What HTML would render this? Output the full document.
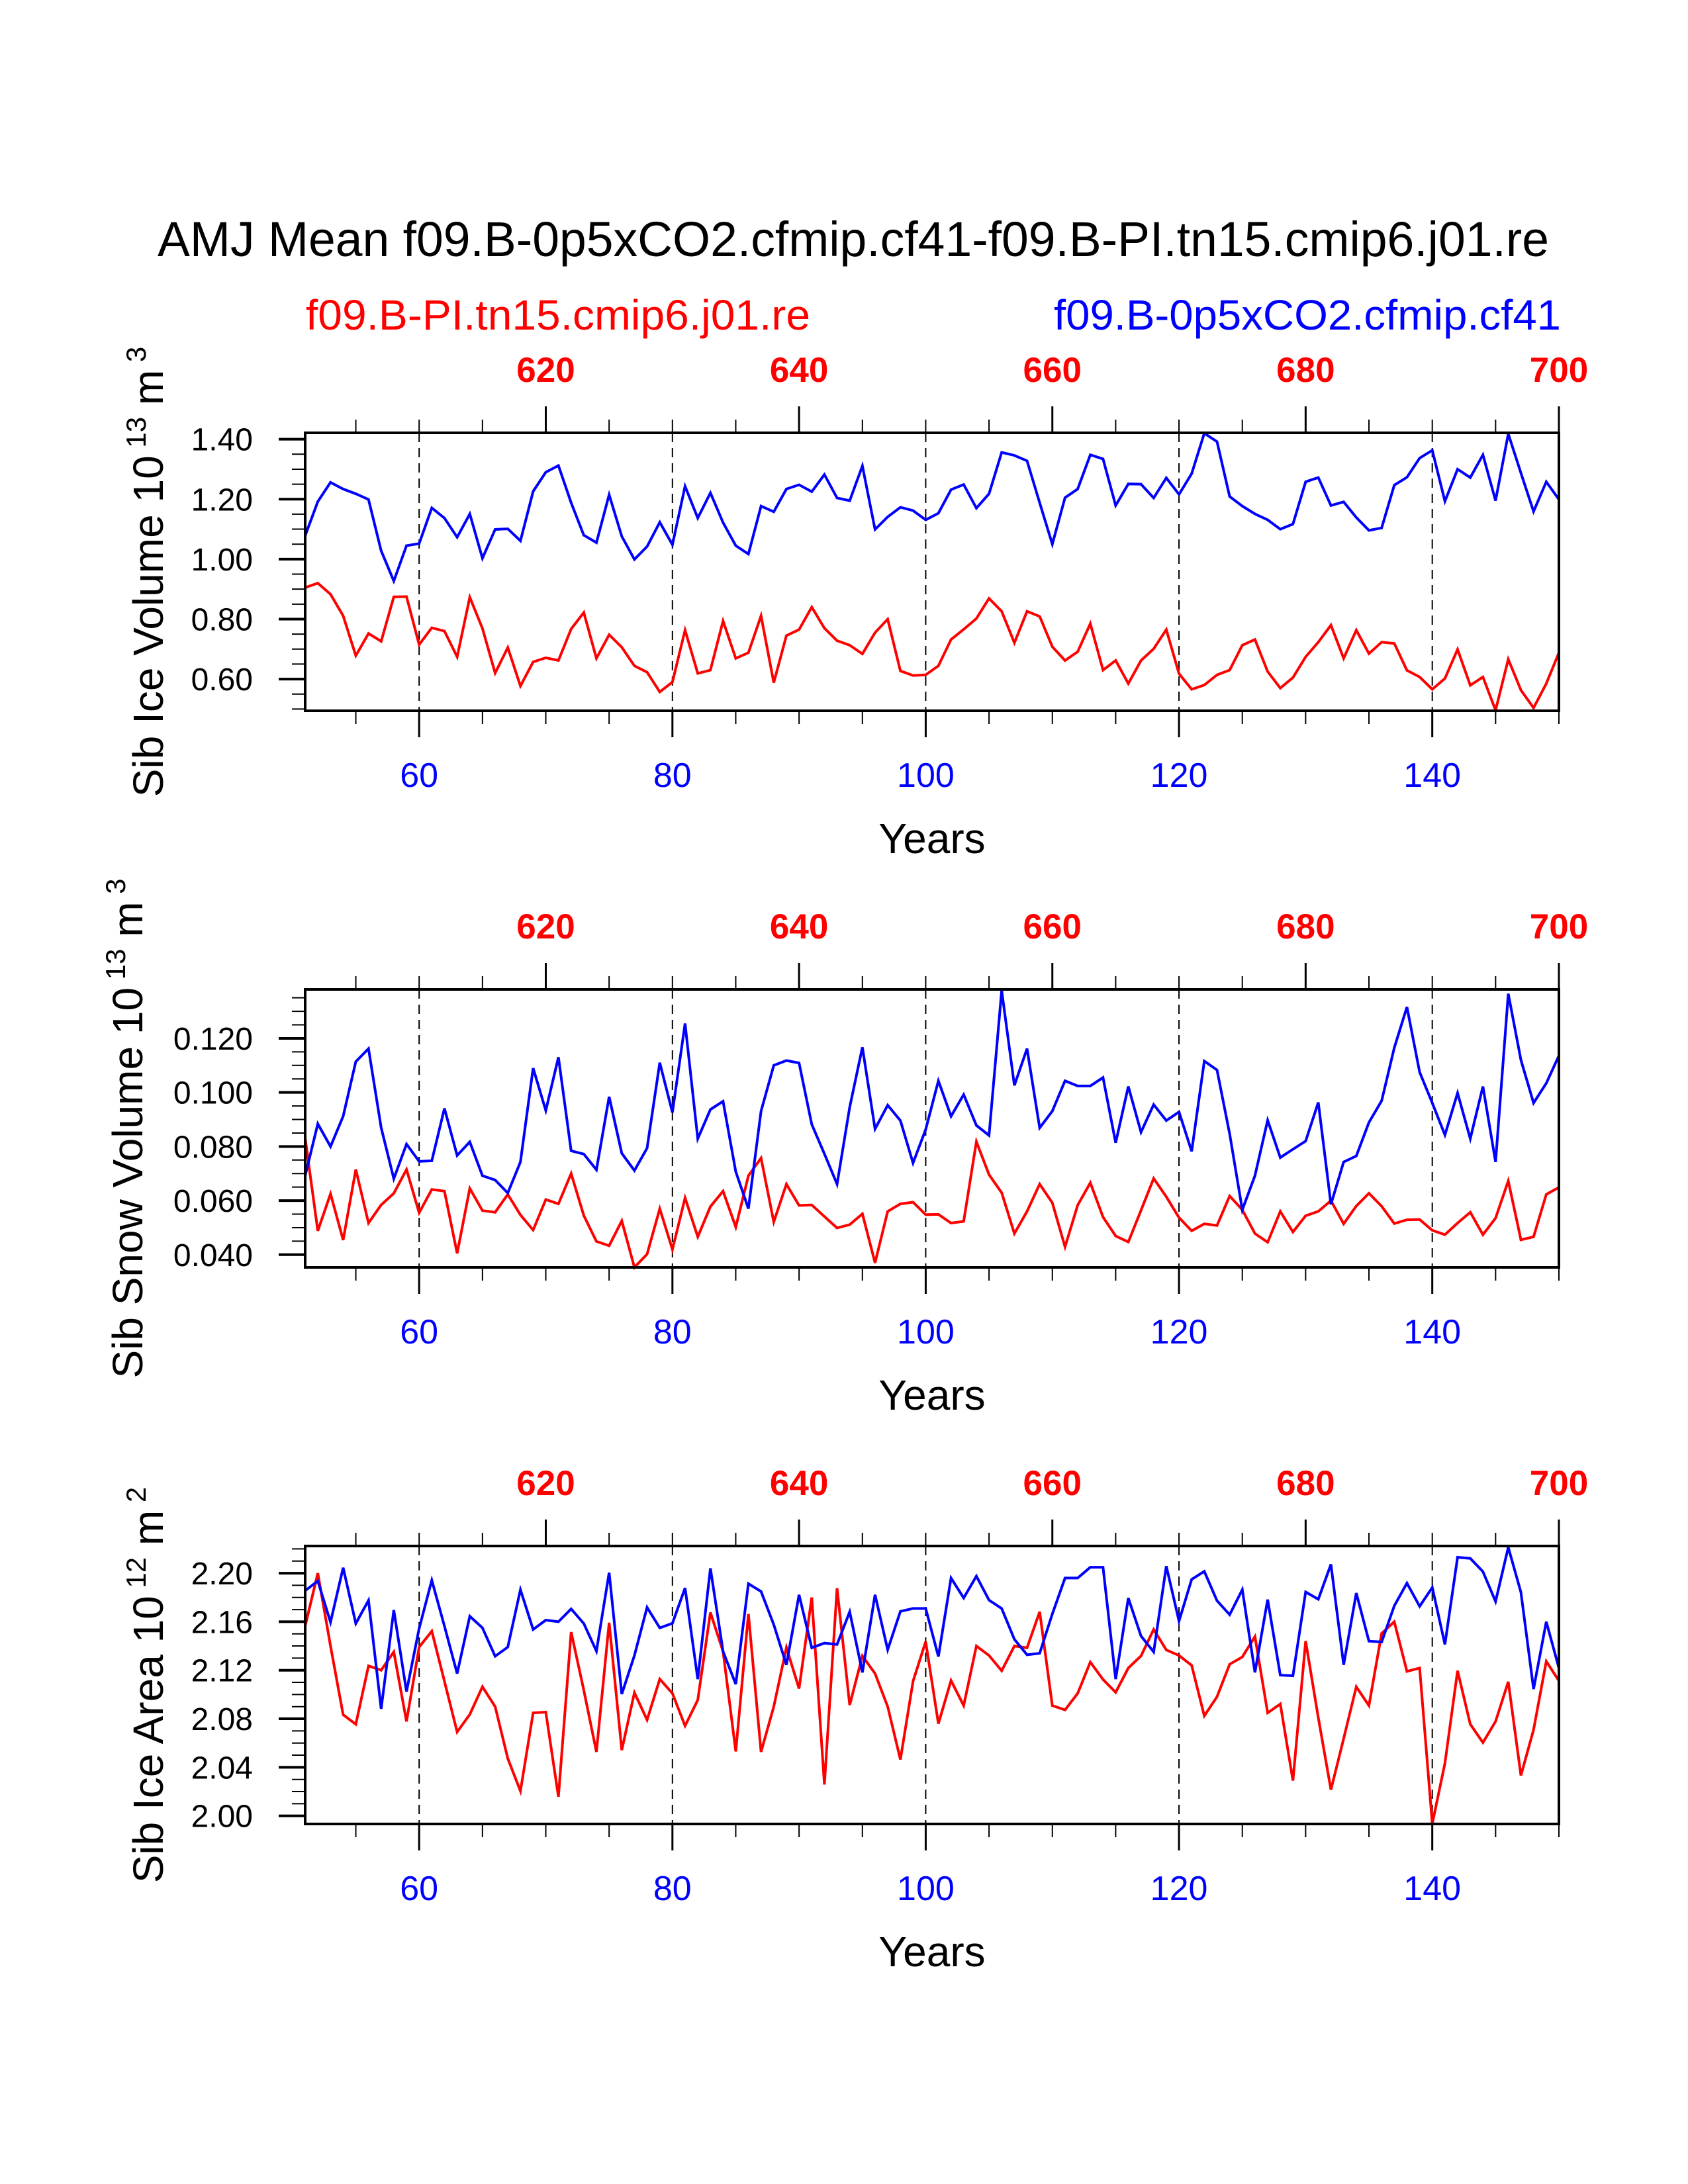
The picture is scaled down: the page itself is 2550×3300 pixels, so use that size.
<!DOCTYPE html>
<html><head><meta charset="utf-8">
<style>
html,body{margin:0;padding:0;background:#fff;}
svg{display:block;font-family:"Liberation Sans",Arial,sans-serif;}
</style></head>
<body>
<svg id="chart" width="2550" height="3300" viewBox="0 0 2550 3300" xmlns="http://www.w3.org/2000/svg">
<rect x="0" y="0" width="2550" height="3300" fill="#fff"/>
<text x="238" y="387" font-size="74" fill="#000" textLength="2102" lengthAdjust="spacingAndGlyphs">AMJ Mean f09.B-0p5xCO2.cfmip.cf41-f09.B-PI.tn15.cmip6.j01.re</text>
<text x="462" y="498" font-size="64" fill="#ff0000" textLength="762" lengthAdjust="spacingAndGlyphs">f09.B-PI.tn15.cmip6.j01.re</text>
<text x="2358" y="498" font-size="64" fill="#0000ff" text-anchor="end" textLength="766" lengthAdjust="spacingAndGlyphs">f09.B-0p5xCO2.cfmip.cf41</text>
<g id="plots"></g>
</svg>
<script>
// ---- data ----
const firstYear = 51;
const lastYear = 150;
const topYearOffset = 550;
const bottomMajorYears = [60, 80, 100, 120, 140];
const topMajorLabels = ["620", "640", "660", "680", "700"];

const volBlue = [1.078,1.192,1.256,1.234,1.218,1.199,1.028,0.927,1.045,1.052,1.171,1.137,1.073,1.151,1.003,1.099,1.101,1.061,1.226,1.290,1.312,1.188,1.080,1.055,1.215,1.076,0.999,1.042,1.123,1.048,1.243,1.137,1.221,1.122,1.045,1.017,1.177,1.158,1.234,1.248,1.225,1.282,1.204,1.195,1.311,1.099,1.141,1.173,1.162,1.131,1.153,1.232,1.249,1.170,1.218,1.356,1.346,1.328,1.188,1.050,1.205,1.234,1.348,1.334,1.179,1.251,1.250,1.204,1.271,1.216,1.285,1.420,1.392,1.209,1.177,1.151,1.131,1.100,1.117,1.258,1.272,1.179,1.191,1.139,1.096,1.104,1.247,1.273,1.337,1.363,1.193,1.300,1.272,1.348,1.195,1.418,1.287,1.159,1.258,1.199];
const volRed = [0.905,0.920,0.883,0.811,0.678,0.752,0.726,0.874,0.875,0.715,0.771,0.760,0.674,0.873,0.769,0.620,0.705,0.577,0.657,0.671,0.662,0.767,0.822,0.669,0.748,0.706,0.644,0.623,0.557,0.590,0.763,0.619,0.630,0.794,0.669,0.688,0.811,0.588,0.745,0.765,0.840,0.770,0.728,0.713,0.684,0.755,0.800,0.627,0.612,0.614,0.644,0.732,0.766,0.802,0.869,0.826,0.721,0.826,0.809,0.708,0.662,0.691,0.785,0.630,0.662,0.585,0.662,0.701,0.765,0.618,0.566,0.580,0.614,0.630,0.713,0.732,0.625,0.570,0.605,0.674,0.723,0.780,0.669,0.763,0.685,0.723,0.719,0.629,0.607,0.566,0.602,0.699,0.579,0.607,0.496,0.666,0.563,0.504,0.585,0.688];
const volTicks = ["0.60","0.80","1.00","1.20","1.40"];

const snowBlue = [0.0692,0.0884,0.0800,0.0912,0.1114,0.1162,0.0870,0.0681,0.0809,0.0745,0.0747,0.0941,0.0767,0.0817,0.0692,0.0676,0.0628,0.0743,0.1090,0.0933,0.1130,0.0784,0.0772,0.0714,0.0984,0.0775,0.0711,0.0794,0.1110,0.0926,0.1255,0.0829,0.0937,0.0967,0.0707,0.0570,0.0931,0.1100,0.1118,0.1109,0.0882,0.0773,0.0661,0.0945,0.1167,0.0865,0.0953,0.0896,0.0739,0.0863,0.1043,0.0912,0.0992,0.0878,0.0841,0.1377,0.1026,0.1162,0.0869,0.0931,0.1043,0.1024,0.1024,0.1055,0.0814,0.1022,0.0853,0.0955,0.0896,0.0928,0.0782,0.1116,0.1083,0.0847,0.0566,0.0692,0.0897,0.0759,0.0790,0.0820,0.0963,0.0586,0.0743,0.0765,0.0889,0.0969,0.1165,0.1316,0.1075,0.0961,0.0843,0.0998,0.0829,0.1022,0.0743,0.1365,0.1120,0.0961,0.1034,0.1136];
const snowRed = [0.0831,0.0488,0.0625,0.0454,0.0715,0.0517,0.0584,0.0627,0.0715,0.0555,0.0641,0.0635,0.0405,0.0645,0.0563,0.0557,0.0623,0.0547,0.0491,0.0604,0.0588,0.0700,0.0545,0.0449,0.0433,0.0525,0.0353,0.0402,0.0570,0.0419,0.0610,0.0466,0.0578,0.0635,0.0502,0.0692,0.0757,0.0521,0.0661,0.0582,0.0584,0.0541,0.0499,0.0511,0.0551,0.0370,0.0560,0.0588,0.0594,0.0548,0.0549,0.0517,0.0523,0.0818,0.0696,0.0629,0.0478,0.0560,0.0661,0.0592,0.0429,0.0583,0.0666,0.0539,0.0469,0.0447,0.0564,0.0682,0.0614,0.0537,0.0488,0.0514,0.0508,0.0617,0.0566,0.0478,0.0446,0.0560,0.0484,0.0544,0.0560,0.0600,0.0514,0.0580,0.0627,0.0579,0.0515,0.0529,0.0530,0.0490,0.0474,0.0517,0.0557,0.0474,0.0535,0.0673,0.0455,0.0466,0.0623,0.0649];
const snowTicks = ["0.040","0.060","0.080","0.100","0.120"];

const areaBlue = [2.1855,2.1936,2.1596,2.2045,2.1585,2.1776,2.0882,2.1696,2.1024,2.1545,2.1942,2.1564,2.1173,2.1645,2.1549,2.1315,2.1391,2.1864,2.1536,2.1613,2.1600,2.1705,2.1585,2.1358,2.2004,2.1004,2.1322,2.1718,2.1549,2.1587,2.1878,2.1127,2.2040,2.1355,2.1085,2.1913,2.1849,2.1576,2.1245,2.1822,2.1385,2.1424,2.1413,2.1682,2.1182,2.1822,2.1369,2.1685,2.1709,2.1709,2.1313,2.1960,2.1796,2.1976,2.1778,2.1709,2.1455,2.1327,2.1340,2.1664,2.1960,2.1960,2.2049,2.2049,2.1127,2.1795,2.1482,2.1351,2.2058,2.1605,2.1949,2.2015,2.1773,2.1658,2.1864,2.1182,2.1782,2.1160,2.1155,2.1845,2.1785,2.2073,2.1245,2.1836,2.1440,2.1433,2.1731,2.1918,2.1727,2.1882,2.1413,2.2131,2.2122,2.2013,2.1767,2.2213,2.1842,2.1045,2.1600,2.1218];
const areaRed = [2.1564,2.2000,2.1400,2.0833,2.0755,2.1236,2.1200,2.1351,2.0778,2.1391,2.1522,2.1109,2.0691,2.0836,2.1064,2.0900,2.0473,2.0204,2.0849,2.0855,2.0158,2.1515,2.1036,2.0527,2.1591,2.0542,2.1015,2.0791,2.1127,2.1009,2.0742,2.0955,2.1676,2.1355,2.0531,2.1664,2.0527,2.0900,2.1387,2.1049,2.1800,2.0258,2.1876,2.0913,2.1318,2.1173,2.0900,2.0464,2.1109,2.1436,2.0760,2.1115,2.0909,2.1400,2.1322,2.1196,2.1400,2.1385,2.1682,2.0909,2.0873,2.1009,2.1267,2.1124,2.1018,2.1218,2.1318,2.1536,2.1367,2.1322,2.1240,2.0824,2.0982,2.1249,2.1309,2.1478,2.0849,2.0922,2.0291,2.1440,2.0809,2.0215,2.0636,2.1064,2.0909,2.1504,2.1600,2.1191,2.1218,1.9936,2.0433,2.1196,2.0755,2.0604,2.0778,2.1105,2.0333,2.0709,2.1273,2.1113];
const areaTicks = ["2.00","2.04","2.08","2.12","2.16","2.20"];

// ---- layout ----
const X0 = 461, X1 = 2355, PH = 420;
const NS = "http://www.w3.org/2000/svg";
const root = document.getElementById('plots');
function mk(tag, attrs, parent) {
  const e = document.createElementNS(NS, tag);
  for (const k in attrs) e.setAttribute(k, attrs[k]);
  (parent || root).appendChild(e);
  return e;
}
function xs(yr) { return X0 + (yr - firstYear) / (lastYear - firstYear) * (X1 - X0); }

const panels = [
  {name:'ice-volume', top:654, ymin:0.4942, ymax:1.4213, minorStep:0.05, minorFrom:0.50, minorTo:1.40, ticks:volTicks, blue:volBlue, red:volRed, titleX:246, title:'Sib Ice Volume 10', sup1:'13', unit:' m', sup2:'3'},
  {name:'snow-volume', top:1495, ymin:0.0353, ymax:0.1381, minorStep:0.005, minorFrom:0.040, minorTo:0.135, ticks:snowTicks, blue:snowBlue, red:snowRed, titleX:215, title:'Sib Snow Volume 10', sup1:'13', unit:' m', sup2:'3'},
  {name:'ice-area', top:2336, ymin:1.9933, ymax:2.2224, minorStep:0.01, minorFrom:2.00, minorTo:2.22, ticks:areaTicks, blue:areaBlue, red:areaRed, titleX:246, title:'Sib Ice Area 10', sup1:'12', unit:' m', sup2:'2'}
];

panels.forEach(function(p) {
  const g = mk('g', {});
  
  
  const bot = p.top + PH;
  const ys = function(v) { return bot - (v - p.ymin) / (p.ymax - p.ymin) * PH; };

  bottomMajorYears.forEach(function(yr) {
    const l = mk('line', {x1:xs(yr), x2:xs(yr), y1:p.top, y2:bot, stroke:'#000', 'stroke-width':2, 'stroke-dasharray':'14 9'}, g);
    
    
  });

  [['red', p.red, '#ff0000'], ['blue', p.blue, '#0000ff']].forEach(function(s) {
    const pts = s[1].map(function(v, i) { return xs(firstYear + i).toFixed(1) + ',' + ys(v).toFixed(1); }).join(' ');
    const pl = mk('polyline', {points:pts, fill:'none', stroke:s[2], 'stroke-width':4, 'stroke-linejoin':'miter'}, g);
    
    
  });

  const fr = mk('rect', {x:X0, y:p.top, width:X1 - X0, height:PH, fill:'none', stroke:'#000', 'stroke-width':4}, g);
  
  

  for (let yr = 55; yr <= lastYear; yr += 5) {
    const major = (yr % 20 === 0);
    const len = major ? 40 : 20;
    const tb = mk('line', {x1:xs(yr), x2:xs(yr), y1:bot, y2:bot + len, stroke:'#000', 'stroke-width':major ? 3 : 2}, g);
    
    
    const tmaj = ((yr + topYearOffset) % 20 === 0);
    const tt = mk('line', {x1:xs(yr), x2:xs(yr), y1:p.top, y2:p.top - (tmaj ? 40 : 20), stroke:'#000', 'stroke-width':tmaj ? 3 : 2}, g);
    
    
  }
  bottomMajorYears.forEach(function(yr) {
    const t = mk('text', {x:xs(yr), y:bot + 115, 'font-size':52, fill:'#0000ff', 'text-anchor':'middle'}, g);
    t.textContent = String(yr);
    
    
  });
  topMajorLabels.forEach(function(lbl) {
    const t = mk('text', {x:xs(Number(lbl) - topYearOffset), y:p.top - 77, 'font-size':53, 'font-weight':'bold', fill:'#ff0000', 'text-anchor':'middle'}, g);
    t.textContent = lbl;
    
    
  });

  const nMinor = Math.round((p.minorTo - p.minorFrom) / p.minorStep);
  for (let i = 0; i <= nMinor; i++) {
    const v = p.minorFrom + i * p.minorStep;
    const tk = mk('line', {x1:X0, x2:X0 - 20, y1:ys(v), y2:ys(v), stroke:'#000', 'stroke-width':2}, g);
    
    
  }
  p.ticks.forEach(function(lbl) {
    const v = Number(lbl);
    const tk = mk('line', {x1:X0, x2:X0 - 40, y1:ys(v), y2:ys(v), stroke:'#000', 'stroke-width':4}, g);
    
    
    const t = mk('text', {x:382, y:ys(v) + 17, 'font-size':48, fill:'#000', 'text-anchor':'end'}, g);
    t.textContent = lbl;
    
    
  });

  const xt = mk('text', {x:(X0 + X1) / 2, y:bot + 215, 'font-size':64, fill:'#000', 'text-anchor':'middle'}, g);
  xt.textContent = 'Years';
  
  

  const yt = mk('text', {transform:'translate(' + p.titleX + ',' + (p.top + PH / 2) + ') rotate(-90)', 'font-size':64, fill:'#000', 'text-anchor':'middle'}, g);
  
  
  const a = mk('tspan', {}, yt); a.textContent = p.title;
  const b = mk('tspan', {dy:-26, 'font-size':42}, yt); b.textContent = ' ' + p.sup1;
  const c = mk('tspan', {dy:26}, yt); c.textContent = p.unit;
  const d = mk('tspan', {dy:-26, 'font-size':42}, yt); d.textContent = ' ' + p.sup2;
});
</script>
</body></html>
